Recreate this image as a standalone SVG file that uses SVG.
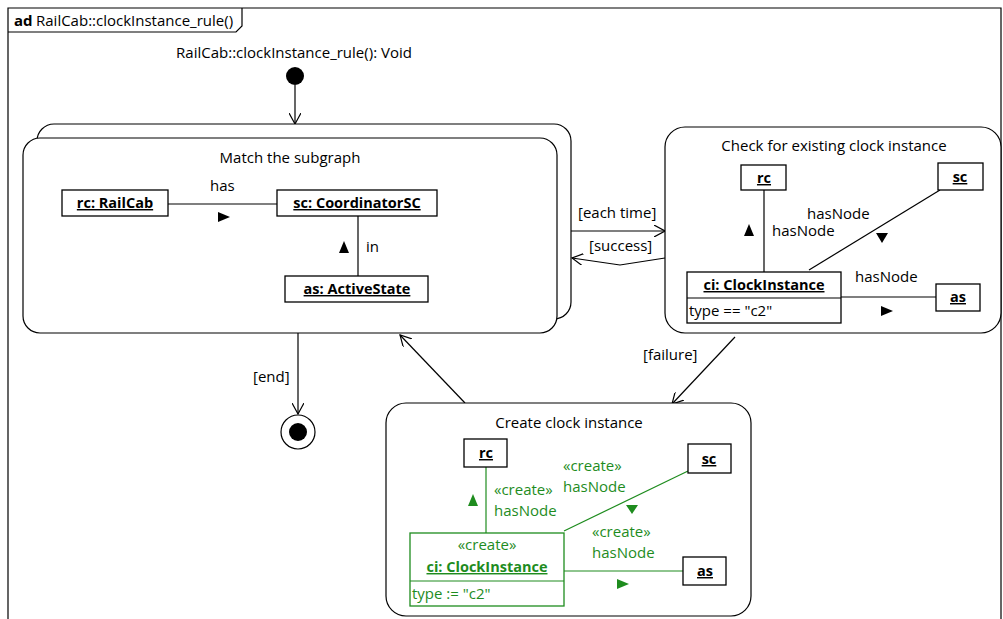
<svg xmlns="http://www.w3.org/2000/svg" width="1003" height="619" viewBox="0 0 1003 619">
  <defs>
    <style>
      text { font-family: "Open Sans", "Noto Sans", "Liberation Sans", sans-serif; font-size: 15px; fill: #000; }
      .b { font-weight: bold; font-size: 14.5px; text-decoration: underline; }
      .m { text-anchor: middle; }
      .g { fill: #1e8c1e; }
      .box { fill: #fff; stroke: #000; stroke-width: 1.3; }
      .gbox { fill: #fff; stroke: #1e8c1e; stroke-width: 1.3; }
      .act { fill: #fff; stroke: #000; stroke-width: 1.2; }
      .ln { stroke: #000; stroke-width: 1.2; fill: none; }
      .gln { stroke: #1e8c1e; stroke-width: 1.2; fill: none; }
      .tri { fill: #000; }
      .gtri { fill: #1e8c1e; }
    </style>
    <marker id="open" viewBox="0 0 12 12" refX="11" refY="6" markerWidth="12" markerHeight="12" markerUnits="userSpaceOnUse" orient="auto">
      <path d="M0,0 L11,6 L0,12" fill="none" stroke="#000" stroke-width="1.2"/>
    </marker>
  </defs>

  <rect width="1003" height="619" fill="#fff"/>

  <!-- diagram frame -->
  <g id="frame">
    <path d="M8,619 V8 H1001 V619" fill="none" stroke="#000" stroke-width="1.2"/>
    <path d="M8,32 H236 L242,26 V8" fill="none" stroke="#000" stroke-width="1.2"/>
    <text x="14" y="26" style="font-weight:bold">ad</text>
    <text x="36" y="26">RailCab::clockInstance_rule()</text>
  </g>

  <!-- connectors -->
  <g id="connectors">
    <line class="ln" x1="295" y1="85" x2="295" y2="124" marker-end="url(#open)"/>
    <line class="ln" x1="571" y1="231" x2="665" y2="231" marker-end="url(#open)"/>
    <text x="578" y="218">[each time]</text>
    <polyline class="ln" points="665,258 620,265 572,258" marker-end="url(#open)"/>
    <text x="589" y="251">[success]</text>
    <line class="ln" x1="735" y1="337" x2="672" y2="404" marker-end="url(#open)"/>
    <text x="643" y="360">[failure]</text>
    <line class="ln" x1="465" y1="403" x2="400" y2="335" marker-end="url(#open)"/>
    <line class="ln" x1="298" y1="333" x2="298" y2="414" marker-end="url(#open)"/>
    <text x="253" y="382">[end]</text>
  </g>

  <!-- start node -->
  <g id="start">
    <text class="m" x="294" y="58">RailCab::clockInstance_rule(): Void</text>
    <circle cx="295" cy="76" r="9" fill="#000"/>
  </g>

  <!-- final node -->
  <g id="final">
    <circle cx="298" cy="432" r="17" fill="#fff" stroke="#000" stroke-width="1.2"/>
    <circle cx="298" cy="432" r="9" fill="#000"/>
  </g>

  <!-- match activity (for-each) -->
  <g id="match">
    <rect class="act" x="37" y="124" width="534" height="195" rx="17"/>
    <rect class="act" x="23" y="138" width="534" height="195" rx="17"/>
    <text class="m" x="290" y="163">Match the subgraph</text>
    <line class="ln" x1="168" y1="204" x2="277" y2="204"/>
    <text x="210" y="191">has</text>
    <path class="tri" d="M218,212 L230,217 L218,222 Z"/>
    <line class="ln" x1="358" y1="216" x2="358" y2="276"/>
    <path class="tri" d="M339,253 L344,241 L349,253 Z"/>
    <text x="366" y="252">in</text>
    <g id="m_rc"><rect class="box" x="62" y="190" width="106" height="26"/><text class="b m" x="115" y="208">rc: RailCab</text></g>
    <g id="m_sc"><rect class="box" x="277" y="190" width="160" height="26"/><text class="b m" x="357" y="208">sc: CoordinatorSC</text></g>
    <g id="m_as"><rect class="box" x="285" y="276" width="143" height="26"/><text class="b m" x="357" y="294">as: ActiveState</text></g>
  </g>

  <!-- check activity -->
  <g id="check">
    <rect class="act" x="665" y="127" width="336" height="206" rx="20"/>
    <text class="m" x="834" y="151">Check for existing clock instance</text>
    <line class="ln" x1="764" y1="190" x2="764" y2="272"/>
    <path class="tri" d="M744,236 L749,224 L754,236 Z"/>
    <text x="772" y="236">hasNode</text>
    <line class="ln" x1="809" y1="270" x2="940" y2="190"/>
    <text x="807" y="219">hasNode</text>
    <path class="tri" d="M876,233 L888,233 L882,243 Z"/>
    <line class="ln" x1="841" y1="297" x2="936" y2="297"/>
    <text x="855" y="282">hasNode</text>
    <path class="tri" d="M881,306 L893,311 L881,316 Z"/>
    <g id="c_rc"><rect class="box" x="741" y="165" width="45" height="25"/><text class="b m" x="764" y="183">rc</text></g>
    <g id="c_sc"><rect class="box" x="938" y="163" width="45" height="27"/><text class="b m" x="960" y="182">sc</text></g>
    <g id="c_as"><rect class="box" x="936" y="284" width="44" height="27"/><text class="b m" x="958" y="302">as</text></g>
    <g id="c_ci">
      <rect class="box" x="687" y="272" width="154" height="51"/>
      <line class="ln" x1="687" y1="298" x2="841" y2="298"/>
      <text class="b m" x="764" y="290">ci: ClockInstance</text>
      <text x="689" y="316">type == "c2"</text>
    </g>
  </g>

  <!-- create activity -->
  <g id="create">
    <rect class="act" x="386" y="403" width="365" height="213" rx="20"/>
    <text class="m" x="569" y="428">Create clock instance</text>
    <line class="gln" x1="486" y1="467" x2="486" y2="533"/>
    <path class="gtri" d="M468,506 L473,494 L478,506 Z"/>
    <text class="g" x="494" y="495">«create»</text>
    <text class="g" x="494" y="516">hasNode</text>
    <line class="gln" x1="564" y1="531" x2="688" y2="471"/>
    <text class="g" x="563" y="471">«create»</text>
    <text class="g" x="563" y="492">hasNode</text>
    <path class="gtri" d="M626,505 L638,505 L632,514 Z"/>
    <line class="gln" x1="564" y1="571" x2="683" y2="571"/>
    <text class="g" x="592" y="537">«create»</text>
    <text class="g" x="592" y="558">hasNode</text>
    <path class="gtri" d="M617,579 L629,584 L617,589 Z"/>
    <g id="n_rc"><rect class="box" x="464" y="439" width="43" height="28"/><text class="b m" x="486" y="458">rc</text></g>
    <g id="n_sc"><rect class="box" x="688" y="444" width="43" height="29"/><text class="b m" x="709" y="464">sc</text></g>
    <g id="n_as"><rect class="box" x="683" y="557" width="43" height="28"/><text class="b m" x="705" y="576">as</text></g>
    <g id="n_ci">
      <rect class="gbox" x="410" y="533" width="154" height="73"/>
      <line class="gln" x1="410" y1="581" x2="564" y2="581"/>
      <text class="g m" x="487" y="550">«create»</text>
      <text class="g b m" x="487" y="572">ci: ClockInstance</text>
      <text class="g" x="412" y="599">type := "c2"</text>
    </g>
  </g>
</svg>
